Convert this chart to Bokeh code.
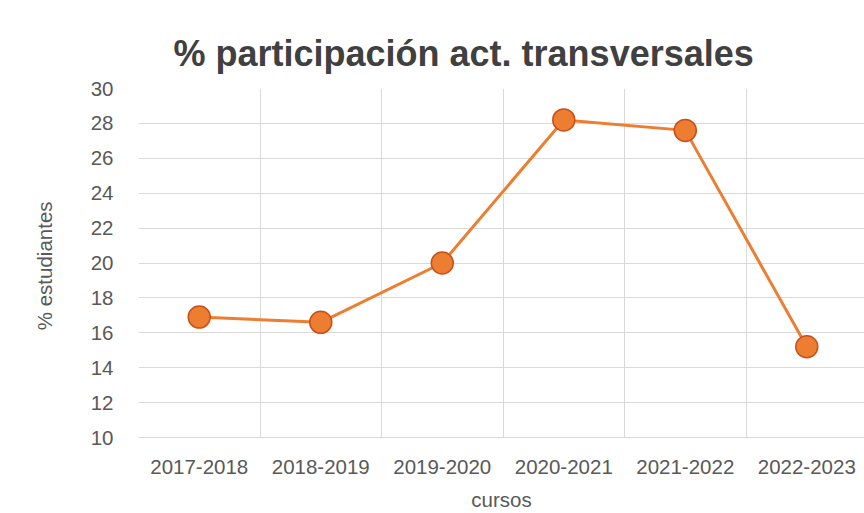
from bokeh.plotting import figure
from bokeh.models import Range1d, FixedTicker
from bokeh.embed import file_html
from bokeh.resources import INLINE

cursos = ["2017-2018", "2018-2019", "2019-2020", "2020-2021", "2021-2022", "2022-2023"]
participacion = [16.9, 16.6, 20.0, 28.2, 27.6, 15.2]
y_ticks = [10, 12, 14, 16, 18, 20, 22, 24, 26, 28, 30]

FONT = "'Liberation Sans', Arial, sans-serif"
GRID = "#d9d9d9"
TXT = "#595959"
ORANGE = "#ED7D31"

xs = [i + 0.5 for i in range(len(cursos))]

p = figure(width=864, height=513, output_backend="svg", toolbar_location=None,
           x_range=Range1d(0, len(cursos) - 0.025), y_range=Range1d(10, 30),
           min_border_left=138, min_border_right=0, min_border_top=88,
           min_border_bottom=70, background_fill_color="white",
           border_fill_color="white")

p.title.text = "% participación act. transversales"
p.title.text_font = FONT
p.title.text_font_style = "bold"
p.title.text_font_size = "36px"
p.title.text_color = "#404040"
p.title.align = "left"
p.title.offset = 35
p.title.standoff = 30

p.outline_line_color = None

p.xaxis.ticker = FixedTicker(ticks=xs)
p.xaxis.major_label_overrides = {x: c for x, c in zip(xs, cursos)}
p.xgrid.ticker = FixedTicker(ticks=list(range(0, len(cursos) + 1)))
p.yaxis.ticker = FixedTicker(ticks=y_ticks)
p.ygrid.ticker = FixedTicker(ticks=y_ticks)

for g in (p.xgrid, p.ygrid):
    g.grid_line_color = GRID
    g.grid_line_width = 1

p.xaxis.axis_line_color = GRID
p.yaxis.axis_line_color = None
for ax in (p.xaxis, p.yaxis):
    ax.major_tick_line_color = None
    ax.minor_tick_line_color = None
    ax.major_label_text_font = FONT
    ax.major_label_text_font_size = "20.5px"
    ax.major_label_text_color = TXT
    ax.axis_label_text_font = FONT
    ax.axis_label_text_font_size = "20.5px"
    ax.axis_label_text_color = TXT
    ax.axis_label_text_font_style = "normal"

p.xaxis.axis_label = "cursos"
p.yaxis.axis_label = "%  estudiantes"
p.xaxis.major_label_standoff = 16
p.yaxis.major_label_standoff = 19
p.xaxis.axis_label_standoff = 11
p.yaxis.axis_label_standoff = 32

p.line(xs, participacion, line_width=3, line_color=ORANGE)
p.scatter(xs, participacion, size=22, fill_color=ORANGE, line_color="#C8501A",
          line_width=1.5)

open("out.html", "w").write(file_html(p, INLINE))
